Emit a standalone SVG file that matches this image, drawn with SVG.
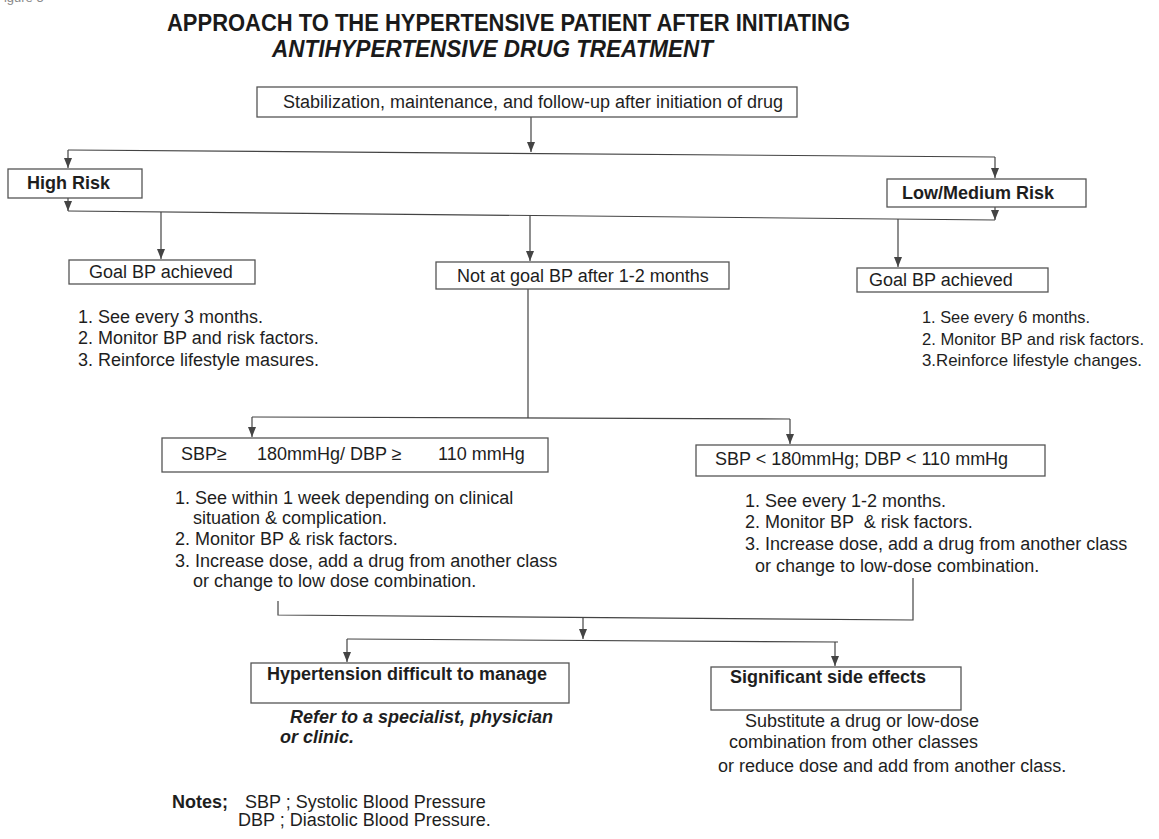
<svg xmlns="http://www.w3.org/2000/svg" width="1159" height="839" viewBox="0 0 1159 839">
  <style>
    .t { font-family: "Liberation Sans", Arial, sans-serif; font-size: 18px; fill: #1e1e1e; }
    .s { font-size: 16.4px; }
    .b { font-weight: bold; }
    .i { font-style: italic; }
    .title { font-family: "Liberation Sans", Arial, sans-serif; font-size: 24px; font-weight: bold; fill: #1a1a1a; }
    .box { fill: #ffffff; stroke: #555555; stroke-width: 1.3; }
    .ln { fill: none; stroke: #444444; stroke-width: 1.2; }
    .arw { fill: none; stroke: #444444; stroke-width: 1.2; marker-end: url(#ah); }
  </style>
  <defs>
    <marker id="ah" viewBox="0 0 10 8" refX="10" refY="4" markerWidth="10" markerHeight="8" markerUnits="userSpaceOnUse" orient="auto">
      <path d="M0,0 L10,4 L0,8 Z" fill="#444444"/>
    </marker>
  </defs>

  <rect width="1159" height="839" fill="#ffffff"/>

  <!-- page label, cropped at the top edge -->
  <text x="-4" y="2" class="t" style="font-size:13px;fill:#888888">Figure 5</text>

  <!-- title -->
  <g id="title">
    <text x="167" y="31" class="title" textLength="683" lengthAdjust="spacingAndGlyphs">APPROACH TO THE HYPERTENSIVE PATIENT AFTER INITIATING</text>
    <text x="272" y="57" class="title i" textLength="441" lengthAdjust="spacingAndGlyphs">ANTIHYPERTENSIVE DRUG TREATMENT</text>
  </g>

  <!-- connectors -->
  <g id="connectors">
    <path class="arw" d="M531,117 V152"/>
    <path class="ln" d="M68,150 L995,157"/>
    <path class="arw" d="M68,150 V168"/>
    <path class="arw" d="M995,157 V178"/>
    <path class="arw" d="M68,198 V211"/>
    <path class="arw" d="M995,207 V220"/>
    <path class="ln" d="M68,211 L995,220"/>
    <path class="arw" d="M161,212 V259"/>
    <path class="arw" d="M530,216 V261"/>
    <path class="arw" d="M898,219 V267"/>
    <path class="ln" d="M528,289 V418"/>
    <path class="ln" d="M252,417 L790,419"/>
    <path class="arw" d="M252,417 V437"/>
    <path class="arw" d="M790,419 V444"/>
    <polyline class="ln" points="278,601 278,615 913,620 913,578"/>
    <path class="arw" d="M583,617 V639"/>
    <path class="ln" d="M347,639 L838,642"/>
    <path class="arw" d="M347,639 V662"/>
    <path class="arw" d="M835,642 V666"/>
  </g>

  <!-- nodes -->
  <g id="start">
    <rect class="box" x="257" y="87" width="540" height="30"/>
    <text x="283" y="108" class="t" textLength="500" lengthAdjust="spacingAndGlyphs">Stabilization, maintenance, and follow-up after initiation of drug</text>
  </g>

  <g id="high-risk">
    <rect class="box" x="8" y="169" width="134" height="29"/>
    <text x="27" y="189" class="t b">High Risk</text>
  </g>

  <g id="low-medium-risk">
    <rect class="box" x="887" y="179" width="199" height="28"/>
    <text x="902" y="199" class="t b">Low/Medium Risk</text>
  </g>

  <g id="goal-high">
    <rect class="box" x="69" y="260" width="186" height="24"/>
    <text x="89" y="278" class="t">Goal BP achieved</text>
    <text x="78" y="323" class="t">1. See every 3 months.</text>
    <text x="78" y="344" class="t">2. Monitor BP and risk factors.</text>
    <text x="78" y="366" class="t">3. Reinforce lifestyle masures.</text>
  </g>

  <g id="not-at-goal">
    <rect class="box" x="436" y="262" width="293" height="27"/>
    <text x="457" y="282" class="t">Not at goal BP after 1-2 months</text>
  </g>

  <g id="goal-low">
    <rect class="box" x="857" y="268" width="191" height="24"/>
    <text x="869" y="286" class="t">Goal BP achieved</text>
    <text x="922" y="323" class="t s" textLength="168" lengthAdjust="spacingAndGlyphs">1. See every 6 months.</text>
    <text x="922" y="345" class="t s" textLength="222" lengthAdjust="spacingAndGlyphs">2. Monitor BP and risk factors.</text>
    <text x="922" y="366" class="t s" textLength="220" lengthAdjust="spacingAndGlyphs">3.Reinforce lifestyle changes.</text>
  </g>

  <g id="severe">
    <rect class="box" x="162" y="438" width="386" height="34"/>
    <text x="181" y="460" class="t">SBP≥</text>
    <text x="257" y="460" class="t">180mmHg/ DBP ≥</text>
    <text x="438" y="460" class="t">110 mmHg</text>
    <text x="175" y="504" class="t">1. See within 1 week depending on clinical</text>
    <text x="193" y="524" class="t">situation &amp; complication.</text>
    <text x="175" y="545" class="t">2. Monitor BP &amp; risk factors.</text>
    <text x="175" y="567" class="t">3. Increase dose, add a drug from another class</text>
    <text x="193" y="587" class="t">or change to low dose combination.</text>
  </g>

  <g id="moderate">
    <rect class="box" x="696" y="445" width="349" height="31"/>
    <text x="715" y="465" class="t">SBP &lt; 180mmHg; DBP &lt; 110 mmHg</text>
    <text x="745" y="507" class="t">1. See every 1-2 months.</text>
    <text x="745" y="528" class="t">2. Monitor BP &#160;&amp; risk factors.</text>
    <text x="745" y="550" class="t">3. Increase dose, add a drug from another class</text>
    <text x="755" y="572" class="t">or change to low-dose combination.</text>
  </g>

  <g id="difficult">
    <rect class="box" x="251" y="663" width="318" height="40"/>
    <text x="267" y="680" class="t b">Hypertension difficult to manage</text>
    <text x="290" y="723" class="t b i">Refer to a specialist, physician</text>
    <text x="280" y="743" class="t b i">or clinic.</text>
  </g>

  <g id="side-effects">
    <rect class="box" x="711" y="667" width="250" height="43"/>
    <text x="730" y="683" class="t b">Significant side effects</text>
    <text x="745" y="727" class="t">Substitute a drug or low-dose</text>
    <text x="729" y="748" class="t">combination from other classes</text>
    <text x="718" y="772" class="t">or reduce dose and add from another class.</text>
  </g>

  <g id="notes">
    <text x="172" y="808" class="t b">Notes;</text>
    <text x="245" y="808" class="t">SBP ; Systolic Blood Pressure</text>
    <text x="238" y="826" class="t">DBP ; Diastolic Blood Pressure.</text>
  </g>
</svg>
